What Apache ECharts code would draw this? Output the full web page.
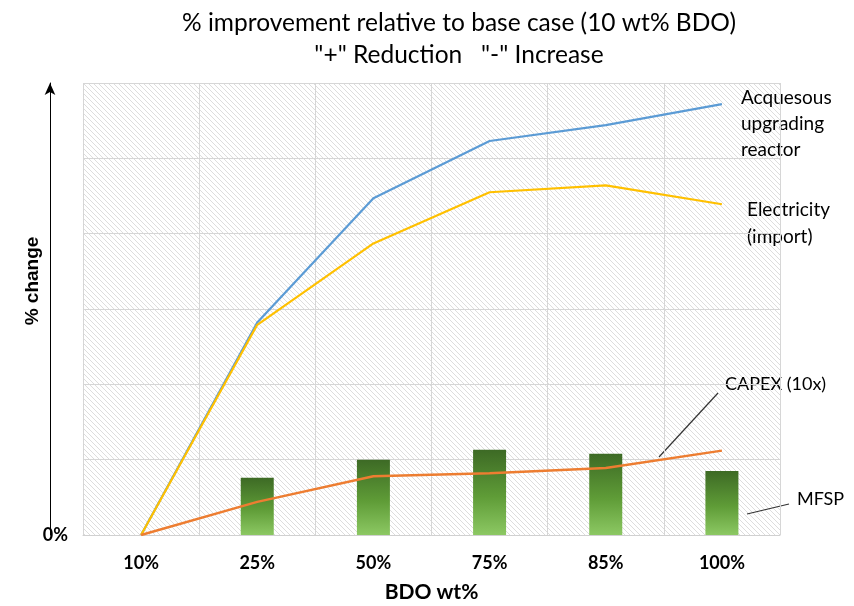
<!DOCTYPE html>
<html>
<head>
<meta charset="utf-8">
<script src="https://cdn.jsdelivr.net/npm/echarts@6/dist/echarts.min.js"></script>
<style>
  html, body { margin: 0; padding: 0; background: #ffffff; }
  #chart { width: 854px; height: 606px; }
</style>
</head>
<body>
<div id="chart"></div>
<script>
// BDO loading cases
const categories = ['10%', '25%', '50%', '75%', '85%', '100%'];

// Relative change (arbitrary units, 0 = base case)
const aqueousReactor = [0, 2.82, 4.47, 5.23, 5.44, 5.72];
const electricityImport = [0, 2.79, 3.87, 4.55, 4.64, 4.39];
const capex10x = [0, 0.44, 0.78, 0.82, 0.89, 1.12];
const mfsp = [null, 0.76, 1.0, 1.13, 1.08, 0.85];

const yTicks = [0, 1, 2, 3, 4, 5, 6];

const FONT = 'Lato, "Open Sans", sans-serif';
const ARIAL = '"Liberation Sans", Arial, sans-serif';

// Diagonal hatch used as the plot background
function hatchPattern() {
  const s = 5;
  const c = document.createElement('canvas');
  c.width = s; c.height = s;
  const g = c.getContext('2d');
  g.fillStyle = '#ffffff';
  g.fillRect(0, 0, s, s);
  g.strokeStyle = '#dddddd';
  g.lineWidth = 1;
  g.beginPath();
  g.moveTo(-1, -1); g.lineTo(s + 1, s + 1);
  g.moveTo(-1, s - 1); g.lineTo(1, s + 1);
  g.moveTo(s - 1, -1); g.lineTo(s + 1, 1);
  g.stroke();
  return { image: c, repeat: 'repeat' };
}

const chart = echarts.init(document.getElementById('chart'), null, { renderer: 'canvas' });

const option = {
  backgroundColor: '#ffffff',
  animation: false,
  title: {
    text: '% improvement relative to base case (10 wt% BDO)\n"+" Reduction   "-" Increase',
    left: 454,
    top: 2,
    textAlign: 'center',
    textStyle: {
      fontFamily: FONT,
      fontSize: 24.5,
      fontWeight: 'normal',
      color: '#000000',
      lineHeight: 32
    }
  },
  grid: {
    left: 83,
    right: 74,
    top: 83,
    bottom: 71,
    show: true,
    borderWidth: 0,
    outerBoundsMode: 'none',
    containLabel: false,
    backgroundColor: hatchPattern()
  },
  xAxis: {
    type: 'category',
    data: categories,
    boundaryGap: true,
    name: 'BDO wt%',
    nameLocation: 'middle',
    nameGap: 47,
    nameTextStyle: { fontFamily: FONT, fontSize: 21, fontWeight: 'bold', color: '#000' },
    axisLine: { show: true, lineStyle: { color: '#d0d0d0', width: 1 } },
    axisTick: { show: false },
    axisLabel: { margin: 19, fontFamily: FONT, fontSize: 18, fontWeight: 'bold', color: '#000' },
    splitLine: { show: true, interval: 0, lineStyle: { color: '#d6d6d6', width: 1 } }
  },
  yAxis: [
    {
      type: 'value',
      min: yTicks[0],
      max: yTicks[yTicks.length - 1],
      interval: 1,
      axisLine: { show: false },
      axisTick: { show: false },
      axisLabel: {
        margin: 15,
        fontFamily: FONT,
        fontSize: 18,
        fontWeight: 'bold',
        color: '#000',
        formatter: v => (v === 0 ? '0%' : '')
      },
      splitLine: { show: true, lineStyle: { color: '#d6d6d6', width: 1 } }
    },
    {
      // arrow-headed axis line on the far left
      type: 'value',
      position: 'left',
      offset: 33,
      min: yTicks[0],
      max: yTicks[yTicks.length - 1],
      axisLine: {
        show: true,
        symbol: ['none', 'arrow'],
        symbolSize: [8, 12],
        lineStyle: { color: '#000', width: 1 }
      },
      axisTick: { show: false },
      axisLabel: { show: false },
      splitLine: { show: false }
    }
  ],
  series: [
    {
      name: 'MFSP',
      type: 'bar',
      data: mfsp,
      barWidth: 33,
      itemStyle: {
        color: new echarts.graphic.LinearGradient(0, 0, 0, 1, [
          { offset: 0, color: '#3d6a25' },
          { offset: 0.55, color: '#5f9c37' },
          { offset: 1, color: '#8cc863' }
        ])
      }
    },
    {
      name: 'Acquesous upgrading reactor',
      type: 'line',
      data: aqueousReactor,
      showSymbol: false,
      lineStyle: { color: '#5b9bd5', width: 2.2 }
    },
    {
      name: 'Electricity (import)',
      type: 'line',
      data: electricityImport,
      showSymbol: false,
      lineStyle: { color: '#ffc000', width: 2.2 }
    },
    {
      name: 'CAPEX (10x)',
      type: 'line',
      data: capex10x,
      showSymbol: false,
      lineStyle: { color: '#ed7d31', width: 2.5 }
    }
  ],
  graphic: [
    {
      type: 'text', x: 33, y: 281, rotation: Math.PI / 2,
      style: {
        text: '% change', font: 'bold 19px ' + ARIAL, fill: '#000',
        align: 'center', verticalAlign: 'middle'
      }
    },
    {
      type: 'text', left: 741, top: 85,
      style: { text: 'Acquesous\nupgrading\nreactor', font: '19px ' + FONT, fill: '#000', lineHeight: 26 }
    },
    {
      type: 'text', left: 747, top: 196,
      style: { text: 'Electricity\n(import)', font: '19px ' + FONT, fill: '#000', lineHeight: 27 }
    },
    {
      type: 'text', left: 725, top: 375,
      style: { text: 'CAPEX (10x)', font: '18px ' + FONT, fill: '#000' }
    },
    {
      type: 'text', left: 797, top: 490,
      style: { text: 'MFSP', font: '18px ' + FONT, fill: '#000' }
    },
    {
      type: 'line',
      shape: { x1: 659, y1: 457, x2: 718, y2: 393 },
      style: { stroke: '#333', lineWidth: 1.2 }
    },
    {
      type: 'line',
      shape: { x1: 747, y1: 514, x2: 789, y2: 504 },
      style: { stroke: '#333', lineWidth: 1.2 }
    }
  ]
};

chart.setOption(option);
</script>
</body>
</html>
